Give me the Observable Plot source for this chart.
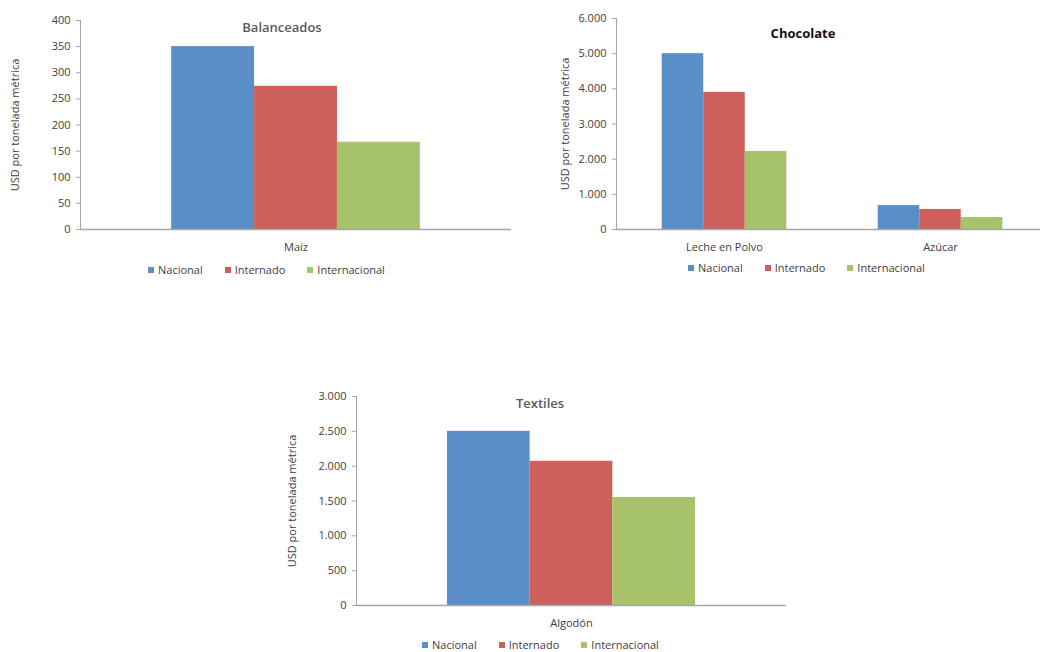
<!DOCTYPE html>
<html><head><meta charset="utf-8">
<script src="https://cdn.jsdelivr.net/npm/d3@7"></script>
<script src="https://cdn.jsdelivr.net/npm/@observablehq/plot@0.6"></script>
<style>
html,body{margin:0;padding:0;background:#fff;overflow:hidden;}
#root{position:relative;width:1040px;height:652px;overflow:hidden;font-family:"Open Sans",sans-serif;}
.chart{position:absolute;}
.title{position:absolute;transform:translate(-50%,-50%);font-size:13px;font-weight:600;color:#595959;white-space:nowrap;}
.legend{position:absolute;display:flex;align-items:center;font-size:11px;line-height:12px;color:#404040;transform:translateY(-50%);white-space:nowrap;}
.legend .item{display:flex;align-items:center;margin-right:22px;}
.legend .sw{width:6px;height:6px;margin-right:4px;}
</style></head>
<body><div id="root"></div>
<script>
// ---- data ----
const series = ["Nacional", "Internado", "Internacional"];
const colors = ["#5a8ec8", "#cd605a", "#a6c36a"];

const balCategories = ["Maíz"];
const balNacional = [350];
const balInternado = [274];
const balInternacional = [167];
const balTicks = [0, 50, 100, 150, 200, 250, 300, 350, 400];

const chocCategories = ["Leche en Polvo", "Azúcar"];
const chocNacional = [5000, 680];
const chocInternado = [3900, 570];
const chocInternacional = [2220, 340];
const chocTicks = [0, 1000, 2000, 3000, 4000, 5000, 6000];

const texCategories = ["Algodón"];
const texNacional = [2500];
const texInternado = [2070];
const texInternacional = [1550];
const texTicks = [0, 500, 1000, 1500, 2000, 2500, 3000];

const yLabel = "USD por tonelada métrica";

// ---- helpers ----
const fmt = d3.formatLocale({decimal: ",", thousands: ".", grouping: [3], currency: ["$", ""]}).format(",d");
const root = document.getElementById("root");

function toRows(categories, valueLists) {
  const rows = [];
  categories.forEach((c, i) => series.forEach((s, j) => rows.push({category: c, series: s, value: valueLists[j][i]})));
  return rows;
}

function makeChart(o) {
  const data = toRows(o.categories, o.values);
  const plot = Plot.plot({
    width: o.width, height: o.height,
    marginLeft: o.marginLeft, marginRight: o.marginRight, marginTop: o.marginTop, marginBottom: o.marginBottom,
    style: {fontFamily: "Open Sans, sans-serif", fontSize: "11px", color: "#404040", background: "transparent", overflow: "visible"},
    fx: {domain: o.categories, padding: 0, round: false, label: null},
    x: {domain: series, axis: null, paddingInner: 0, paddingOuter: 1.1, round: false},
    y: {domain: o.yDomain},
    color: {domain: series, range: colors},
    marks: [
      Plot.barY(data, {fx: "category", x: "series", y: "value", fill: "series"}),
      Plot.ruleY([0], {stroke: "#a6a6a6", strokeWidth: 1.5}),
      Plot.frame({anchor: "left", stroke: "#a6a6a6", facet: "super"}),
      Plot.axisY({ticks: o.ticks, tickSize: 4, tickPadding: 6, tickFormat: fmt, stroke: "#a6a6a6",
        label: yLabel, labelAnchor: "center", labelOffset: o.labelOffset, labelArrow: "none"}),
      Plot.axisFx({anchor: "bottom", tickSize: 0, tickPadding: 14, label: null})
    ]
  });
  plot.classList.add("chart");
  plot.style.left = o.left + "px";
  plot.style.top = o.top + "px";
  root.appendChild(plot);
}

function addTitle(text, x, y, bold) {
  const d = document.createElement("div");
  d.className = "title";
  d.textContent = text;
  d.style.left = x + "px";
  d.style.top = y + "px";
  if (bold) { d.style.fontWeight = "700"; d.style.color = "#111"; }
  root.appendChild(d);
}

function addLegend(x, y) {
  const d = document.createElement("div");
  d.className = "legend";
  d.style.left = x + "px";
  d.style.top = y + "px";
  series.forEach((s, i) => {
    const it = document.createElement("div");
    it.className = "item";
    const sw = document.createElement("span");
    sw.className = "sw";
    sw.style.background = colors[i];
    const t = document.createElement("span");
    t.textContent = s;
    it.appendChild(sw); it.appendChild(t);
    d.appendChild(it);
  });
  root.appendChild(d);
}

// ---- charts ----
makeChart({categories: balCategories, values: [balNacional, balInternado, balInternacional],
  yDomain: [0, 400], ticks: balTicks, left: 0, top: 0, width: 520, height: 259,
  marginLeft: 80, marginRight: 9, marginTop: 20, marginBottom: 30, labelOffset: 69});
addTitle("Balanceados", 282, 27, false);
addLegend(148, 270);

makeChart({categories: chocCategories, values: [chocNacional, chocInternado, chocInternacional],
  yDomain: [0, 6000], ticks: chocTicks, left: 540, top: 0, width: 508, height: 259,
  marginLeft: 76, marginRight: 0, marginTop: 18, marginBottom: 30, labelOffset: 55});
addTitle("Chocolate", 803, 33, true);
addLegend(688, 268);

makeChart({categories: texCategories, values: [texNacional, texInternado, texInternacional],
  yDomain: [0, 3000], ticks: texTicks, left: 270, top: 380, width: 520, height: 255,
  marginLeft: 86, marginRight: 4, marginTop: 16, marginBottom: 30, labelOffset: 68});
addTitle("Textiles", 540, 403, false);
addLegend(422, 645);
</script></body></html>
